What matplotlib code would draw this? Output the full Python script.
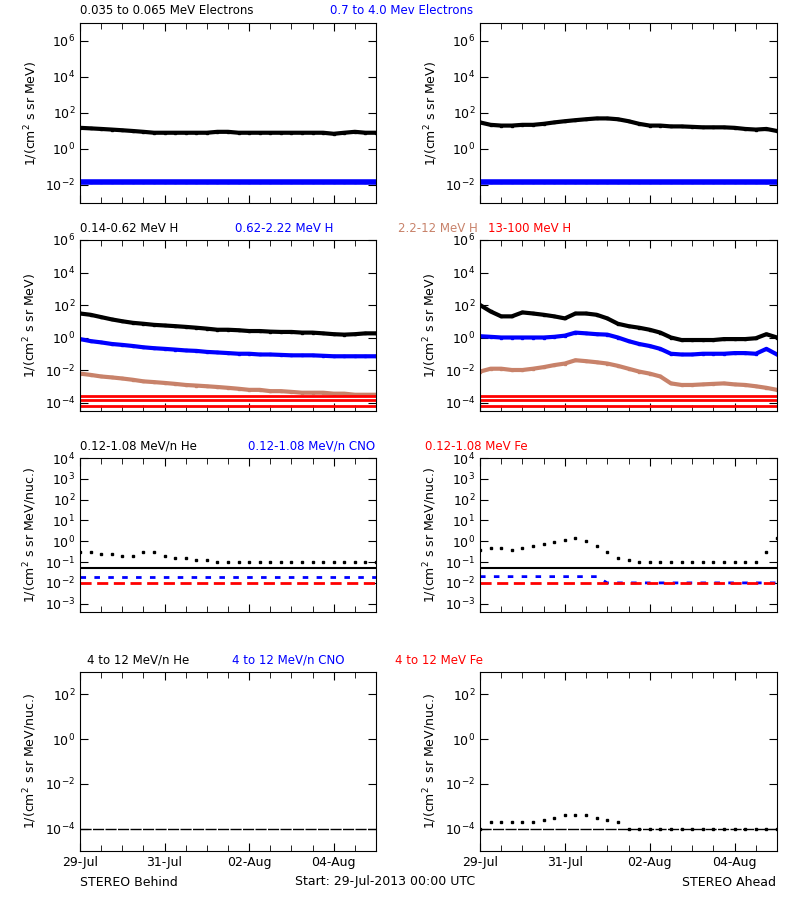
import numpy as np
import matplotlib.pyplot as plt
from matplotlib.ticker import FixedLocator, NullLocator, NullFormatter

plt.rcParams['font.family'] = ['DejaVu Sans']
plt.rcParams['font.size'] = 9

# time in days since 29-Jul-2013 00:00, 6-hourly readings
t = np.arange(0, 7.01, 0.25)

# row 1: electrons
e_lo_b = [15, 14, 13, 12, 11, 10, 9, 8, 8, 8, 8, 8, 8, 9, 9, 8, 8, 8, 8, 8, 8, 8, 8, 8, 7, 8, 9, 8, 8]
e_hi_b = [0.015] * 29
e_lo_a = [30, 22, 20, 20, 22, 22, 25, 30, 35, 40, 45, 50, 50, 45, 35, 25, 20, 20, 18, 18, 17, 16, 16, 16, 15, 13, 12, 13, 10]
e_hi_a = [0.015] * 29

# row 2: protons
h1_b = [30, 25, 18, 13, 10, 8, 7, 6, 5.5, 5, 4.5, 4, 3.5, 3, 3, 2.8, 2.5, 2.5, 2.3, 2.2, 2.2, 2.0, 2.0, 1.8, 1.6, 1.5, 1.6, 1.8, 1.8]
h2_b = [0.8, 0.6, 0.5, 0.4, 0.35, 0.3, 0.25, 0.22, 0.2, 0.18, 0.16, 0.15, 0.13, 0.12, 0.11, 0.1, 0.1, 0.09, 0.09, 0.085, 0.08, 0.08, 0.08, 0.075, 0.07, 0.07, 0.07, 0.07, 0.07]
h3_b = [0.006, 0.005, 0.004, 0.0035, 0.003, 0.0025, 0.002, 0.0018, 0.0016, 0.0014, 0.0012, 0.0011, 0.001, 0.0009, 0.0008, 0.0007, 0.0006, 0.0006, 0.0005, 0.0005, 0.00045, 0.0004, 0.0004, 0.0004, 0.00035, 0.00035, 0.0003, 0.0003, 0.0003]
h1_a = [100, 40, 20, 20, 35, 30, 25, 20, 15, 30, 30, 25, 15, 7, 5, 4, 3, 2, 1.0, 0.7, 0.7, 0.7, 0.7, 0.8, 0.8, 0.8, 0.9, 1.6, 1.0]
h2_a = [1.2, 1.1, 1.0, 1.0, 1.0, 1.0, 1.0, 1.1, 1.3, 2.0, 1.8, 1.6, 1.5, 1.0, 0.6, 0.4, 0.3, 0.2, 0.1, 0.09, 0.09, 0.1, 0.1, 0.1, 0.11, 0.11, 0.1, 0.2, 0.09]
h3_a = [0.008, 0.012, 0.012, 0.01, 0.01, 0.012, 0.015, 0.02, 0.025, 0.04, 0.035, 0.03, 0.025, 0.018, 0.012, 0.008, 0.006, 0.004, 0.0015, 0.0012, 0.0012, 0.0013, 0.0014, 0.0015, 0.0013, 0.0012, 0.001, 0.0008, 0.0006]
h4_levels = [2.5e-4, 1.5e-4, 6e-5]

# row 3: low energy ions
he_lo_b = [0.3, 0.3, 0.25, 0.25, 0.2, 0.2, 0.3, 0.3, 0.2, 0.15, 0.15, 0.12, 0.12, 0.1, 0.1, 0.1, 0.1, 0.1, 0.1, 0.1, 0.1, 0.1, 0.1, 0.1, 0.1, 0.1, 0.1, 0.1, 0.1]
he_base_b = [0.05] * 29
cno_lo_b = [0.02] * 29
fe_lo_b = [0.01] * 29
he_lo_a = [0.4, 0.5, 0.5, 0.4, 0.5, 0.6, 0.7, 0.9, 1.2, 1.5, 1.0, 0.6, 0.3, 0.15, 0.12, 0.1, 0.1, 0.1, 0.1, 0.1, 0.1, 0.1, 0.1, 0.1, 0.1, 0.1, 0.1, 0.3, 1.5]
he_base_a = [0.05] * 29
cno_lo_a = [0.02] * 12 + [0.01] * 17
fe_lo_a = [0.01] * 29

# row 4: high energy ions
he_hi_b = [1e-4] * 29
he_hi_a = [1e-4, 2e-4, 2e-4, 2e-4, 2e-4, 2e-4, 2.5e-4, 3e-4, 4e-4, 4e-4, 4e-4, 3e-4, 2.5e-4, 2e-4, 1e-4, 1e-4, 1e-4, 1e-4, 1e-4, 1e-4, 1e-4, 1e-4, 1e-4, 1e-4, 1e-4, 1e-4, 1e-4, 1e-4, 1e-4]

brown = '#c8826a'

fig = plt.figure(figsize=(8, 9), dpi=100)

rows = [(23, 203), (240, 411), (458, 612), (672, 851)]
cols = [(80, 376), (480, 777)]
ylims = [(1e-3, 1e7), (3e-5, 1e6), (4e-4, 1e4), (1e-5, 1e3)]
yticks = [[1e-2, 1e0, 1e2, 1e4, 1e6], [1e-4, 1e-2, 1e0, 1e2, 1e4, 1e6],
          [1e-3, 1e-2, 1e-1, 1e0, 1e1, 1e2, 1e3, 1e4], [1e-4, 1e-2, 1e0, 1e2]]
ylabels = ['1/(cm$^2$ s sr MeV)', '1/(cm$^2$ s sr MeV)',
           '1/(cm$^2$ s sr MeV/nuc.)', '1/(cm$^2$ s sr MeV/nuc.)']

axes = {}
for r, (top, bot) in enumerate(rows):
    for c, (lft, rgt) in enumerate(cols):
        ax = fig.add_axes([lft / 800, 1 - bot / 900, (rgt - lft) / 800, (bot - top) / 900])
        ax.set_yscale('log')
        ax.set_ylim(*ylims[r])
        ax.set_xlim(0, 7)
        ax.yaxis.set_major_locator(FixedLocator(yticks[r]))
        ax.yaxis.set_minor_locator(NullLocator())
        ax.xaxis.set_major_locator(FixedLocator([0, 2, 4, 6]))
        ax.xaxis.set_minor_locator(FixedLocator(np.arange(0.5, 7, 0.5)))
        ax.tick_params(which='both', direction='in', top=True, right=True, length=6)
        ax.tick_params(which='minor', length=4)
        ax.set_ylabel(ylabels[r], fontsize=9)
        if r == 3:
            ax.set_xticklabels(['29-Jul', '31-Jul', '02-Aug', '04-Aug'])
        else:
            ax.xaxis.set_major_formatter(NullFormatter())
        axes[(r, c)] = ax

def band(ax, y, color, lw=3):
    ax.plot(t, y, color=color, lw=lw, marker='s', ms=2)

band(axes[(0, 0)], e_lo_b, 'black')
band(axes[(0, 0)], e_hi_b, 'blue', 4)
band(axes[(0, 1)], e_lo_a, 'black')
band(axes[(0, 1)], e_hi_a, 'blue', 4)

for c, (a, b, d) in enumerate([(h1_b, h2_b, h3_b), (h1_a, h2_a, h3_a)]):
    ax = axes[(1, c)]
    band(ax, a, 'black')
    band(ax, b, 'blue')
    band(ax, d, brown)
    for lv in h4_levels:
        ax.plot(t, [lv] * len(t), color='red', lw=2)

for c, (a, b, d, e) in enumerate([(he_lo_b, he_base_b, cno_lo_b, fe_lo_b),
                                  (he_lo_a, he_base_a, cno_lo_a, fe_lo_a)]):
    ax = axes[(2, c)]
    ax.plot(t, a, 's', color='black', ms=2)
    ax.plot(t, b, color='black', lw=1.5)
    ax.plot(t, d, ls=(0, (2, 3)), color='blue', lw=2)
    ax.plot(t, e, ls=(0, (4, 2)), color='red', lw=2)

axes[(3, 0)].plot(t, he_hi_b, color='black', lw=1, ls=(0, (8, 1)))
axes[(3, 1)].plot(t, [1e-4] * len(t), color='black', lw=1, ls=(0, (8, 1)))
axes[(3, 1)].plot(t, he_hi_a, 's', color='black', ms=2)

# panel titles
titles = [
    [(80, '0.035 to 0.065 MeV Electrons', 'black'), (330, '0.7 to 4.0 Mev Electrons', 'blue')],
    [(80, '0.14-0.62 MeV H', 'black'), (235, '0.62-2.22 MeV H', 'blue'),
     (398, '2.2-12 MeV H', brown), (488, '13-100 MeV H', 'red')],
    [(80, '0.12-1.08 MeV/n He', 'black'), (248, '0.12-1.08 MeV/n CNO', 'blue'),
     (425, '0.12-1.08 MeV Fe', 'red')],
    [(87, '4 to 12 MeV/n He', 'black'), (232, '4 to 12 MeV/n CNO', 'blue'),
     (395, '4 to 12 MeV Fe', 'red')],
]
for r, row in enumerate(titles):
    for x, s, col in row:
        fig.text(x / 800, 1 - (rows[r][0] - 12) / 900, s, color=col, fontsize=8.5, va='center')

fig.text(80 / 800, 1 - 882 / 900, 'STEREO Behind', fontsize=9, va='center')
fig.text(295 / 800, 1 - 882 / 900, 'Start: 29-Jul-2013 00:00 UTC', fontsize=9, va='center')
fig.text(776 / 800, 1 - 882 / 900, 'STEREO Ahead', fontsize=9, va='center', ha='right')

fig.savefig('out.png', dpi=100)
